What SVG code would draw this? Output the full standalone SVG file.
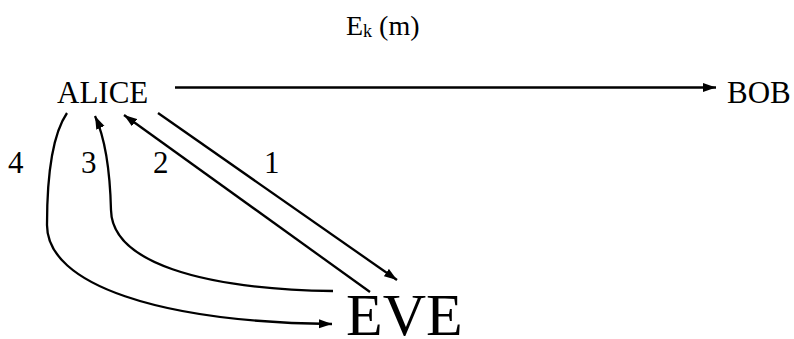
<svg xmlns="http://www.w3.org/2000/svg" width="794" height="339" viewBox="0 0 794 339">
<style>
text{font-family:"Liberation Serif","Times New Roman",serif;fill:#000}
.lbl{font-size:31px}
.edge{fill:none;stroke:#000;stroke-width:2.3;marker-end:url(#ah)}
</style>
<defs>
<marker id="ah" markerUnits="userSpaceOnUse" markerWidth="14" markerHeight="10" refX="13" refY="4.5" orient="auto">
<path d="M0,0 L13,4.5 L0,9 z" fill="#000"/>
</marker>
</defs>
<rect width="794" height="339" fill="#fff"/>
<g id="alice"><text class="lbl" x="57" y="103">ALICE</text></g>
<g id="bob"><text class="lbl" x="727" y="103">BOB</text></g>
<g id="eve"><text x="346" y="335" font-size="60">EVE</text></g>
<g id="connectors">
<path class="edge" d="M175,87.5 L716,87.5"/>
<path class="edge" d="M158,113 L397,280"/>
<path class="edge" d="M370,292 L124,115"/>
<path class="edge" d="M333,291 C200,289 112,262 111,210 C110,170 106,140 95,116"/>
<path class="edge" d="M67,113 C52,135 47,180 47,225 C47,285 160,322 332,324"/>
</g>
<g id="labels">
<text x="346" y="35" font-size="28">E<tspan font-size="18" dy="2">k</tspan><tspan dy="-2"> (m)</tspan></text>
<text class="lbl" x="8" y="173">4</text>
<text class="lbl" x="81" y="173">3</text>
<text class="lbl" x="153" y="173">2</text>
<text class="lbl" x="264" y="173">1</text>
</g>
</svg>
